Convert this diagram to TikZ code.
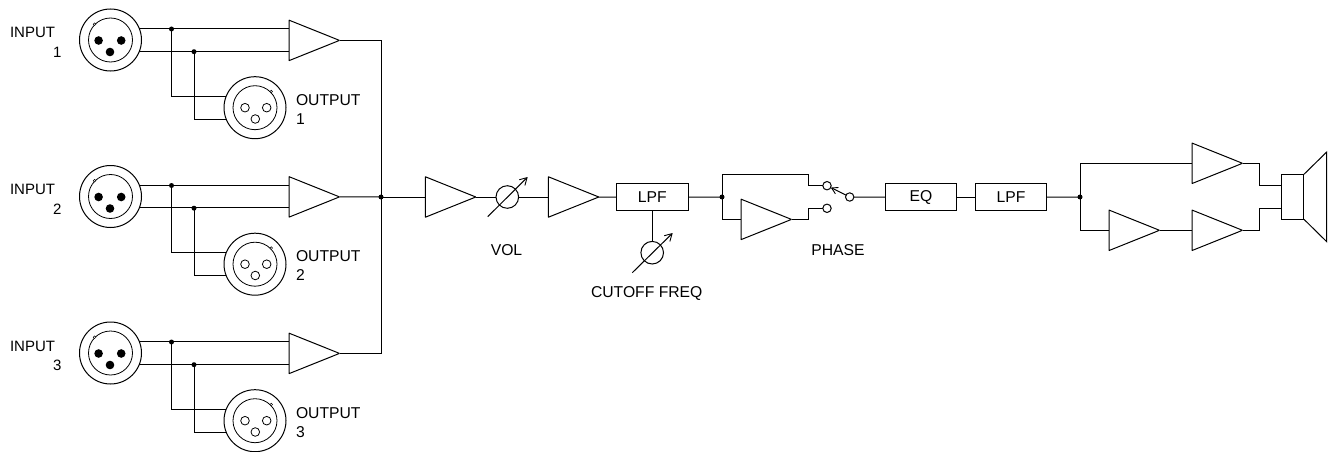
\documentclass[tikz,border=0pt]{standalone}
\usepackage{fontspec}
\setmainfont{Liberation Sans}
\usetikzlibrary{shapes.geometric,arrows.meta,calc}
\tikzset{
  wire/.style={line width=1pt,line join=miter,line cap=butt},
  amp/.style={draw,line width=1pt,isosceles triangle,isosceles triangle stretches=true,shape border rotate=0,
    minimum width=40.5pt,minimum height=50.5pt,inner sep=0pt,outer sep=0pt,anchor=lower side,miter limit=1},
  xlr/.style={draw,circle,line width=1pt,minimum size=62pt,inner sep=0pt,outer sep=0pt},
  xlrin/.style={draw,circle,line width=0.8pt,minimum size=44pt,inner sep=0pt,outer sep=0pt},
  pinf/.style={circle,fill=black,minimum size=8.6pt,inner sep=0pt,outer sep=0pt},
  pino/.style={circle,draw,line width=0.8pt,minimum size=8.6pt,inner sep=0pt,outer sep=0pt},
  notch/.style={circle,draw,line width=0.5pt,fill=white,minimum size=2.6pt,inner sep=0pt},
  dot/.style={circle,fill=black,minimum size=5pt,inner sep=0pt,outer sep=0pt},
  contact/.style={circle,draw,line width=1pt,fill=white,minimum size=8.4pt,inner sep=0pt,outer sep=0pt},
  pot/.style={circle,draw,line width=1pt,minimum size=22.6pt,inner sep=0pt,outer sep=0pt},
  blockbox/.style={draw,line width=1pt,minimum width=71.7pt,minimum height=27pt,inner sep=0pt,outer sep=0pt},
  txt/.style={inner sep=0pt,outer sep=0pt,font=\fontsize{15.7}{18}\selectfont},
  txtin/.style={inner sep=0pt,outer sep=0pt,font=\fontsize{15}{18}\selectfont},
  knob/.style={line width=1pt,-{Straight Barb[length=7pt,width=8pt,line width=0.9pt]}},
}
\begin{document}
\begin{tikzpicture}[x=1pt,y=-1pt]
\useasboundingbox (0,0) rectangle (1339,452);
% three channels
\foreach \ch/\dy in {1/0,2/156.5,3/313}{
  \node[xlr] (in\ch) at (110.5,40+\dy) {};
  \node[xlrin] (ini\ch) at (110.5,40+\dy) {};
  \node[notch] at (94.6,24.2+\dy) {};
  \node[pinf] at (98.6,40.5+\dy) {};
  \node[pinf] at (121.2,40.5+\dy) {};
  \node[pinf] at (110,52+\dy) {};
  \node[xlr] (out\ch) at (255,107.7+\dy) {};
  \node[xlrin] (outi\ch) at (255,107.7+\dy) {};
  \node[notch] at (271.2,91.6+\dy) {};
  \node[pino] at (245,107.7+\dy) {};
  \node[pino] at (266.7,107.7+\dy) {};
  \node[pino] at (255.3,119+\dy) {};
  \node[amp] (a\ch) at (289,40.4+\dy) {};
  \node[dot] (da\ch) at (171.5,29+\dy) {};
  \node[dot] (db\ch) at (194,51.7+\dy) {};
  \draw[wire] (in\ch.21.4) -- (a\ch.lower side |- in\ch.21.4);
  \draw[wire] (in\ch.-21.4) -- (a\ch.lower side |- in\ch.-21.4);
  \draw[wire] (da\ch.center) |- (out\ch.158.6);
  \draw[wire] (db\ch.center) |- (out\ch.-158.6);
  \node[txtin,anchor=base west] (il\ch) at (10,38+\dy) {INPUT};
  \node[txtin,anchor=base east] (in\ch n) at (61.5,57.5+\dy) {\ch};
  \node[txt,anchor=base west] (ol\ch) at (296,105+\dy) {OUTPUT};
  \node[txt,anchor=base west] (ol\ch n) at (296,124+\dy) {\ch};
}
% main chain
\node[dot] (mj) at (381,197) {};
\draw[wire] (a1.apex) -| (mj.center);
\draw[wire] (a3.apex) -| (mj.center);
\draw[wire] (a2.apex) -- (mj.center);
\node[amp] (b1) at (425.3,197) {};
\node[pot] (vol) at (507.3,197) {};
\node[amp] (b2) at (548.3,197) {};
\node[blockbox] (lpfa) at (652.2,197.2) {};
\node[txt] at (lpfa) {LPF};
\node[pot] (cut) at (652.2,252.7) {};
\draw[wire] (mj.center) -- (b1.lower side);
\draw[wire] (b1.apex) -- (vol.west);
\draw[wire] (vol.east) -- (b2.lower side);
\draw[wire] (b2.apex) -- (lpfa.west);
\draw[wire] (lpfa.south) -- (cut.north);
\coordinate (volS) at (487.7,216.7);
\coordinate (volE) at (527.7,177);
\coordinate (cutS) at (632.3,272.7);
\coordinate (cutE) at (672.7,233);
\draw[knob] (volS) -- (volE);
\draw[knob] (cutS) -- (cutE);
\node[txt] (vollab) at (506.5,250) {VOL};
\node[txt] (cutlab) at (646.7,294) {CUTOFF FREQ};
% phase
\node[dot] (pj) at (722,197) {};
\node[amp] (pamp) at (741,219.4) {};
\node[contact] (c1) at (827,185.7) {};
\node[contact] (c2) at (827,208.3) {};
\node[contact] (c3) at (849.7,197) {};
\coordinate (pu1) at (808.3,174.3);
\coordinate (pl1) at (808.3,219.4);
\draw[wire] (lpfa.east) -- (pj.center);
\draw[wire] (pj.center) |- (pu1) |- (c1.west);
\draw[wire] (pj.center) |- (pamp.lower side);
\draw[wire] (pamp.apex) -- (pl1) |- (c2.west);
\draw[line width=1pt,-{Straight Barb[length=6pt,width=7pt,line width=0.9pt]}] (c3) -- (c1);
\node[txt] (phlab) at (838,250) {PHASE};
% output chain
\node[blockbox] (eq) at (921,197.2) {};
\node[txt] at (eq) {EQ};
\node[blockbox] (lpfb) at (1011,197.2) {};
\node[txt] at (lpfb) {LPF};
\node[dot] (oj) at (1080,197) {};
\node[amp] (t1) at (1192,163.3) {};
\node[amp] (l1) at (1109,230.3) {};
\node[amp] (l2) at (1192,230.3) {};
\draw[wire] (c3.east) -- (eq.west);
\draw[wire] (eq.east) -- (lpfb.west);
\draw[wire] (lpfb.east) -- (oj.center);
\draw[wire] (oj.center) |- (t1.lower side);
\draw[wire] (oj.center) |- (l1.lower side);
\draw[wire] (l1.apex) -- (l2.lower side);
% speaker
\node[draw,line width=1pt,minimum width=22.3pt,minimum height=45pt,inner sep=0pt,outer sep=0pt] (spk) at (1292.8,196.8) {};
\coordinate (coneT) at (1326.7,152);
\coordinate (coneB) at (1326.7,241.7);
\draw[wire,line join=miter] (spk.north east) -- (coneT) -- (coneB) -- (spk.south east);
\coordinate (st) at (1281.7,185.7);
\coordinate (sb) at (1281.7,208.3);
\coordinate (vt) at (1259.3,163.3);
\coordinate (vb) at (1259.3,230.3);
\draw[wire] (t1.apex) -- (vt) |- (st);
\draw[wire] (l2.apex) -- (vb) |- (sb);
\end{tikzpicture}
\end{document}
